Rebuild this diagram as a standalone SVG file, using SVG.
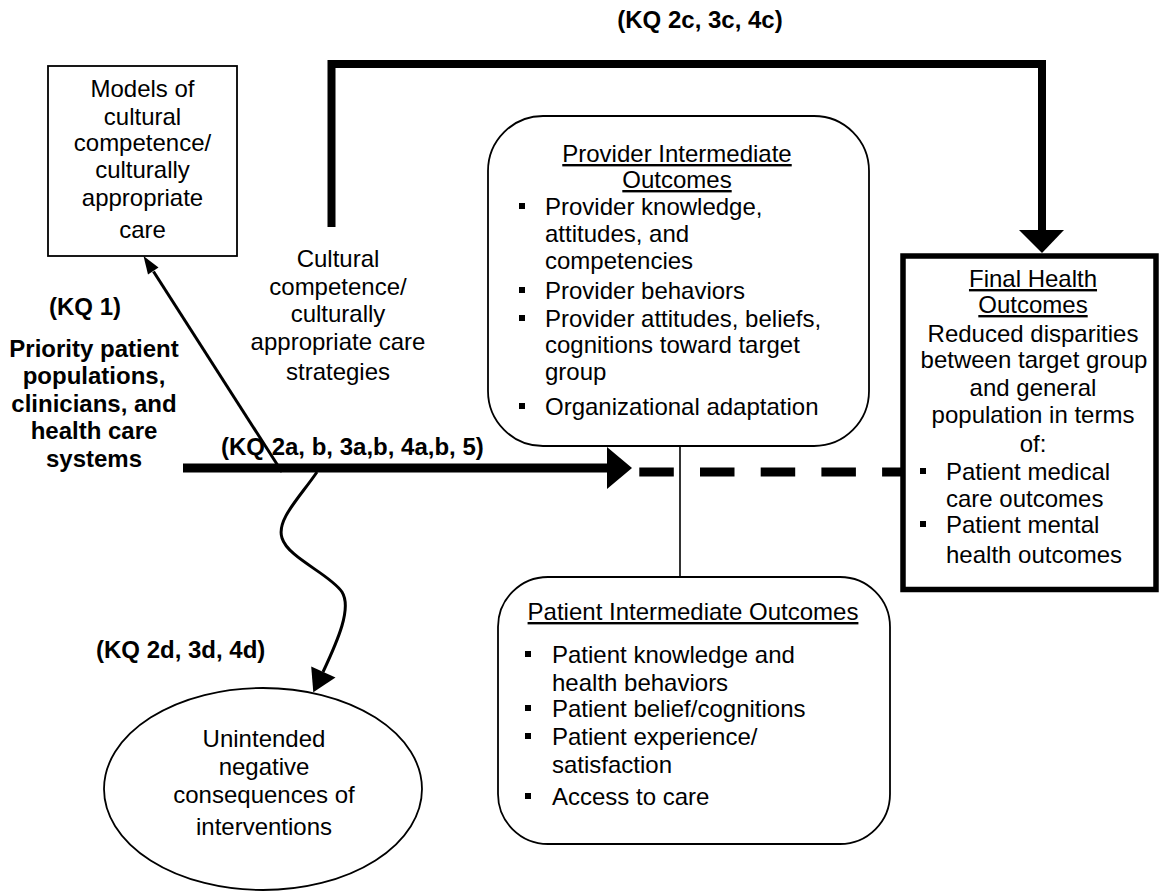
<svg xmlns="http://www.w3.org/2000/svg" width="1159" height="892" viewBox="0 0 1159 892">
<style>
.t{font-family:"Liberation Sans",Arial,sans-serif;font-size:24px;fill:#000}
.b{font-weight:bold}
.c{text-anchor:middle}
.u{text-decoration:underline}
.box{fill:#fff;stroke:#000;stroke-width:1.8}
.thin{fill:none;stroke:#000;stroke-width:1.6}
.sq{fill:#000}
</style>
<rect x="0" y="0" width="1159" height="892" fill="#fff"/>

<g id="connectors">
  <!-- top feedback arrow -->
  <path d="M331.5,227 V64 H1042 V231" fill="none" stroke="#000" stroke-width="8" stroke-linejoin="miter"/>
  <polygon points="1019,230 1064,230 1042,253" fill="#000"/>
  <!-- main arrow -->
  <line x1="183" y1="468" x2="609" y2="468" stroke="#000" stroke-width="9"/>
  <polygon points="607,447 632,468 607,489" fill="#000"/>
  <!-- dashed continuation -->
  <line x1="639.3" y1="472" x2="902" y2="472" stroke="#000" stroke-width="9" stroke-dasharray="34.5 26.2"/>
  <!-- thin vertical link -->
  <line x1="680" y1="446" x2="680" y2="577" stroke="#000" stroke-width="1.6"/>
  <!-- KQ1 arrow -->
  <line x1="282" y1="472" x2="153.5" y2="271.5" stroke="#000" stroke-width="3"/>
  <polygon points="143.5,256 158.5,267.5 148,274.5" fill="#000"/>
  <!-- wavy arrow -->
  <path d="M317,472 C300,497 276,520 282,538 C288,558 330,574 342,592 C352,608 338,640 323,672" fill="none" stroke="#000" stroke-width="3"/>
  <polygon points="313.3,692.3 311.2,666.5 335.5,677.5" fill="#000"/>
</g>

<g id="label-kq2c">
  <text class="t b c" x="700" y="28">(KQ 2c, 3c, 4c)</text>
</g>
<g id="label-kq2a">
  <text class="t b" x="221" y="455">(KQ 2a, b, 3a,b, 4a,b, 5)</text>
</g>
<g id="label-kq2d">
  <text class="t b" x="96" y="658">(KQ 2d, 3d, 4d)</text>
</g>

<g id="models">
  <rect class="box" x="48" y="66" width="189" height="190"/>
  <text class="t c" x="142.5" y="97">Models of</text>
  <text class="t c" x="142.5" y="125">cultural</text>
  <text class="t c" x="142.5" y="151">competence/</text>
  <text class="t c" x="142.5" y="178">culturally</text>
  <text class="t c" x="142.5" y="206">appropriate</text>
  <text class="t c" x="142.5" y="238">care</text>
</g>

<g id="populations">
  <text class="t b" x="49" y="315">(KQ 1)</text>
  <text class="t b c" x="94" y="357">Priority patient</text>
  <text class="t b c" x="94" y="384">populations,</text>
  <text class="t b c" x="94" y="412">clinicians, and</text>
  <text class="t b c" x="94" y="439">health care</text>
  <text class="t b c" x="94" y="467">systems</text>
</g>

<g id="strategies">
  <text class="t c" x="338" y="267">Cultural</text>
  <text class="t c" x="338" y="295">competence/</text>
  <text class="t c" x="338" y="322">culturally</text>
  <text class="t c" x="338" y="350">appropriate care</text>
  <text class="t c" x="338" y="380">strategies</text>
</g>

<g id="provider">
  <rect class="box" x="488" y="116" width="381" height="330" rx="55" ry="55"/>
  <text class="t c u" x="677" y="162">Provider Intermediate</text>
  <text class="t c u" x="677" y="188">Outcomes</text>
  <rect class="sq" x="519" y="203" width="6" height="6"/>
  <text class="t" x="545" y="215">Provider knowledge,</text>
  <text class="t" x="545" y="242">attitudes, and</text>
  <text class="t" x="545" y="269">competencies</text>
  <rect class="sq" x="519" y="287" width="6" height="6"/>
  <text class="t" x="545" y="299">Provider behaviors</text>
  <rect class="sq" x="519" y="315" width="6" height="6"/>
  <text class="t" x="545" y="327">Provider attitudes, beliefs,</text>
  <text class="t" x="545" y="353">cognitions toward target</text>
  <text class="t" x="545" y="380">group</text>
  <rect class="sq" x="519" y="403" width="6" height="6"/>
  <text class="t" x="545" y="415">Organizational adaptation</text>
</g>

<g id="final">
  <rect x="903" y="256" width="253" height="333.5" fill="#fff" stroke="#000" stroke-width="5.5"/>
  <text class="t c u" x="1033" y="287">Final Health</text>
  <text class="t c u" x="1033" y="313">Outcomes</text>
  <text class="t c" x="1033" y="342">Reduced disparities</text>
  <text class="t c" x="1034" y="368">between target group</text>
  <text class="t c" x="1033" y="396">and general</text>
  <text class="t c" x="1033" y="423">population in terms</text>
  <text class="t c" x="1033" y="452">of:</text>
  <rect class="sq" x="920" y="468" width="6" height="6"/>
  <text class="t" x="946" y="480">Patient medical</text>
  <text class="t" x="946" y="507">care outcomes</text>
  <rect class="sq" x="920" y="521" width="6" height="6"/>
  <text class="t" x="946" y="533">Patient mental</text>
  <text class="t" x="946" y="563">health outcomes</text>
</g>

<g id="patient">
  <rect class="box" x="498" y="577" width="392" height="267" rx="50" ry="50"/>
  <text class="t c u" x="693" y="620">Patient Intermediate Outcomes</text>
  <rect class="sq" x="525" y="651" width="6" height="6"/>
  <text class="t" x="552" y="663">Patient knowledge and</text>
  <text class="t" x="552" y="691">health behaviors</text>
  <rect class="sq" x="525" y="705" width="6" height="6"/>
  <text class="t" x="552" y="717">Patient belief/cognitions</text>
  <rect class="sq" x="525" y="733" width="6" height="6"/>
  <text class="t" x="552" y="745">Patient experience/</text>
  <text class="t" x="552" y="773">satisfaction</text>
  <rect class="sq" x="525" y="793" width="6" height="6"/>
  <text class="t" x="552" y="805">Access to care</text>
</g>

<g id="unintended">
  <ellipse cx="263" cy="789" rx="159" ry="101" fill="#fff" stroke="#000" stroke-width="1.8"/>
  <text class="t c" x="264" y="747">Unintended</text>
  <text class="t c" x="264" y="775">negative</text>
  <text class="t c" x="264" y="803">consequences of</text>
  <text class="t c" x="264" y="835">interventions</text>
</g>
</svg>
